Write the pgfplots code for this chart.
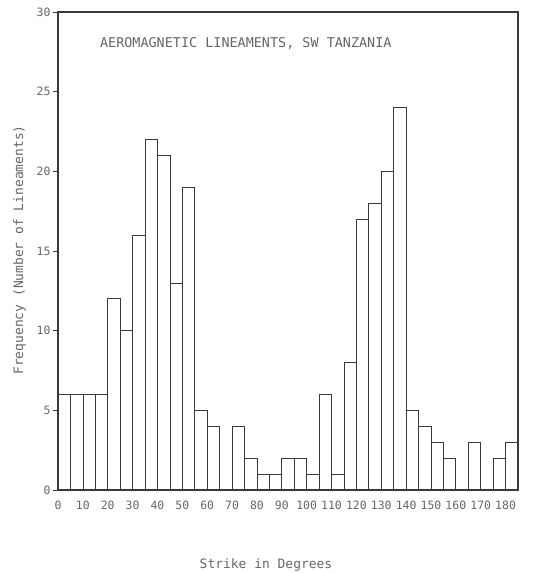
\documentclass[border=0pt]{standalone}
\usepackage{pgfplots}
\pgfplotsset{compat=1.18}
\usetikzlibrary{calc}
\usepackage{fontspec}
\setmainfont{DejaVu Sans Mono}
\definecolor{txt}{HTML}{666666}
\definecolor{ln}{HTML}{3A3A3A}
\begin{document}
\begin{tikzpicture}
\begin{axis}[name=ax,
  scale only axis, width=460bp, height=478bp,
  xmin=0, xmax=185, ymin=0, ymax=30,
  xtick={0,10,...,180}, ytick={0,5,...,30},
  /pgf/number format/assume math mode=true,
  ticklabel style={font=\fontsize{11.5}{13}\selectfont, text=txt},
  tick align=outside, ytick pos=left, xtick pos=bottom,
  xtick style={draw=none},
  ytick style={ln, line width=0.7bp},
  major tick length=5bp,
  yticklabel style={xshift=1bp},
  xticklabel style={yshift=-2bp},
  axis line style={ln, line width=1.2bp},
  axis on top,
  xlabel={Strike in Degrees},
  ylabel={Frequency (Number of Lineaments)},
  label style={font=\fontsize{13}{15}\selectfont, text=txt},
  xlabel style={yshift=-43bp, xshift=-22bp},
  ylabel style={yshift=4bp, xshift=1bp},
]
\addplot[ybar interval, draw=ln, line width=0.7bp, fill=white] coordinates {
(0,6)(5,6)(10,6)(15,6)(20,12)(25,10)(30,16)(35,22)(40,21)(45,13)
(50,19)(55,5)(60,4)(65,0)(70,4)(75,2)(80,1)(85,1)(90,2)(95,2)
(100,1)(105,6)(110,1)(115,8)(120,17)(125,18)(130,20)(135,24)(140,5)(145,4)
(150,3)(155,2)(160,0)(165,3)(170,0)(175,2)(180,3)(185,0)};
\node[anchor=west, text=txt, font=\fontsize{13.5}{15}\selectfont] at (axis cs:15.5,28) {AEROMAGNETIC LINEAMENTS, SW TANZANIA};
\end{axis}
\pgfresetboundingbox
\path (ax.south west) ++(-58bp,-83bp) rectangle ($(ax.north east)+(23bp,12bp)$);
\end{tikzpicture}
\end{document}
